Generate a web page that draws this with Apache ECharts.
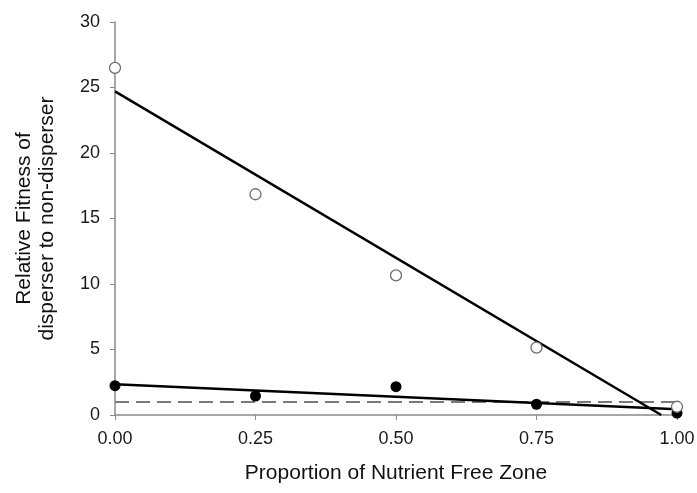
<!DOCTYPE html>
<html>
<head>
<meta charset="utf-8">
<script src="https://cdn.jsdelivr.net/npm/echarts@6/dist/echarts.min.js"></script>
<style>
  html, body { margin: 0; padding: 0; background: #fff; }
  #chart { width: 697px; height: 493px; }
</style>
</head>
<body>
<div id="chart"></div>
<script>
// Proportion of nutrient-free zone (x) and relative fitness (y)
const proportions = [0.00, 0.25, 0.50, 0.75, 1.00];
const openValues = [26.5, 16.85, 10.66, 5.14, 0.63];
const filledValues = [2.24, 1.45, 2.16, 0.82, 0.15];

// Fitted regression lines: [x, y] endpoints
const openFit = [[0.00, 24.7], [0.972, 0.0]];
const filledFit = [[0.00, 2.35], [1.00, 0.43]];

// Neutral fitness reference (ratio = 1)
const neutralLine = [[0.00, 1.0], [1.00, 1.0]];

const xTicks = ['0.00', '0.25', '0.50', '0.75', '1.00'];

const font = '"Liberation Sans", Arial, sans-serif';
const axisGrey = '#8a8a8a';

const chart = echarts.init(document.getElementById('chart'));

chart.setOption({
  animation: false,
  backgroundColor: '#ffffff',
  grid: { left: 115, right: 20, top: 22, bottom: 78, containLabel: false, outerBoundsMode: 'none' },
  xAxis: {
    type: 'value',
    min: 0,
    max: 1,
    interval: 0.25,
    axisLine: { onZero: false, lineStyle: { color: axisGrey, width: 1.5 } },
    axisTick: { show: true, length: 5, lineStyle: { color: axisGrey } },
    splitLine: { show: false },
    axisLabel: {
      color: '#1a1a1a', fontFamily: font, fontSize: 18, margin: 15,
      formatter: v => xTicks[Math.round(v / 0.25)]
    },
    name: 'Proportion of Nutrient Free Zone',
    nameLocation: 'middle',
    nameGap: 48,
    nameTextStyle: { color: '#111', fontFamily: font, fontSize: 21 }
  },
  yAxis: {
    type: 'value',
    min: 0,
    max: 30,
    interval: 5,
    axisLine: { show: true, lineStyle: { color: axisGrey, width: 1.5 } },
    axisTick: { show: true, length: 5, lineStyle: { color: axisGrey } },
    splitLine: { show: false },
    axisLabel: { color: '#1a1a1a', fontFamily: font, fontSize: 18, margin: 15 },
    name: 'Relative Fitness of\ndisperser to non-disperser',
    nameLocation: 'middle',
    nameGap: 56,
    nameTextStyle: { color: '#111', fontFamily: font, fontSize: 21, lineHeight: 23 }
  },
  series: [
    {
      type: 'line',
      data: neutralLine,
      symbol: 'none',
      lineStyle: { color: '#7a7a7a', width: 2, type: [14, 7] },
      z: 1
    },
    {
      type: 'line',
      data: openFit,
      symbol: 'none',
      lineStyle: { color: '#000', width: 2.5 },
      z: 2
    },
    {
      type: 'line',
      data: filledFit,
      symbol: 'none',
      lineStyle: { color: '#000', width: 2.5 },
      z: 2
    },
    {
      type: 'scatter',
      data: proportions.map((x, i) => [x, filledValues[i]]),
      symbol: 'circle',
      symbolSize: 11,
      itemStyle: { color: '#000', opacity: 1 },
      z: 3
    },
    {
      type: 'scatter',
      data: proportions.map((x, i) => [x, openValues[i]]),
      symbol: 'circle',
      symbolSize: 11,
      itemStyle: { color: '#fff', borderColor: '#6e6e6e', borderWidth: 1.3, opacity: 1 },
      z: 4
    }
  ]
});
</script>
</body>
</html>
